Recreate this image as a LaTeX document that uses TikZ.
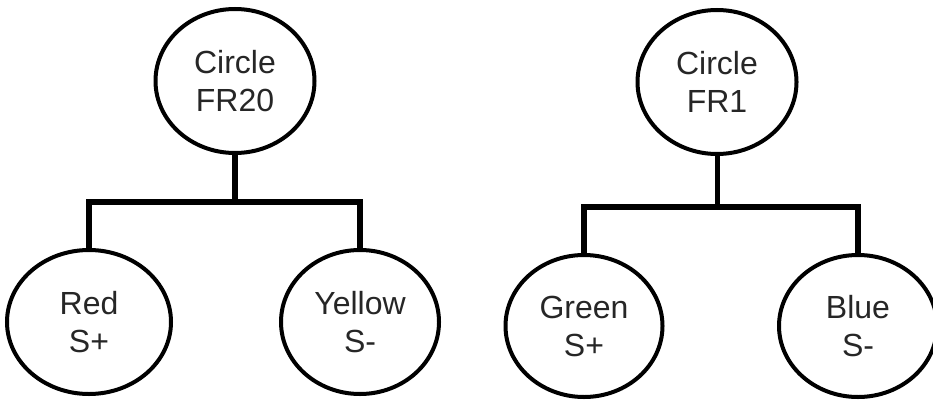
\documentclass[tikz,border=0pt]{standalone}
\usepackage{fontspec}
\setmainfont{Liberation Sans}
\usetikzlibrary{shapes.geometric}
\begin{document}
\begin{tikzpicture}[x=1pt,y=1pt,
  oval/.style={draw=black, line width=4pt, ellipse, inner sep=0pt,
    minimum width=159pt, minimum height=144pt, align=center,
    font=\fontsize{32}{38}\selectfont, text=black!85},
  conn/.style={draw=black, line width=6pt, line join=miter, line cap=rect}]
\useasboundingbox (0,0) rectangle (933,400);
% left tree
\node[oval] (t1) at (235,319) {Circle\\FR20};
\node[oval, minimum width=164pt, minimum height=144pt] (c1) at (89,78) {Red\\S+};
\node[oval, minimum width=158pt, minimum height=144pt] (c2) at (360,78) {Yellow\\S-};
\coordinate (b1) at (235,198);
\draw[conn, line cap=butt] (t1.south) -- (t1.south |- b1);
\draw[conn, line cap=butt] (c1.north) |- (b1) -| (c2.north);
% right tree
\node[oval] (t2) at (717,318) {Circle\\FR1};
\node[oval, minimum width=157pt, minimum height=142pt] (c3) at (584,74) {Green\\S+};
\node[oval, minimum width=158pt, minimum height=142pt] (c4) at (858,74) {Blue\\S-};
\coordinate (b2) at (717,193);
\draw[conn, line width=5pt, line cap=butt] (t2.south) -- (t2.south |- b2);
\draw[conn, line cap=butt] (c3.north) |- (b2) -| (c4.north);
\end{tikzpicture}
\end{document}
